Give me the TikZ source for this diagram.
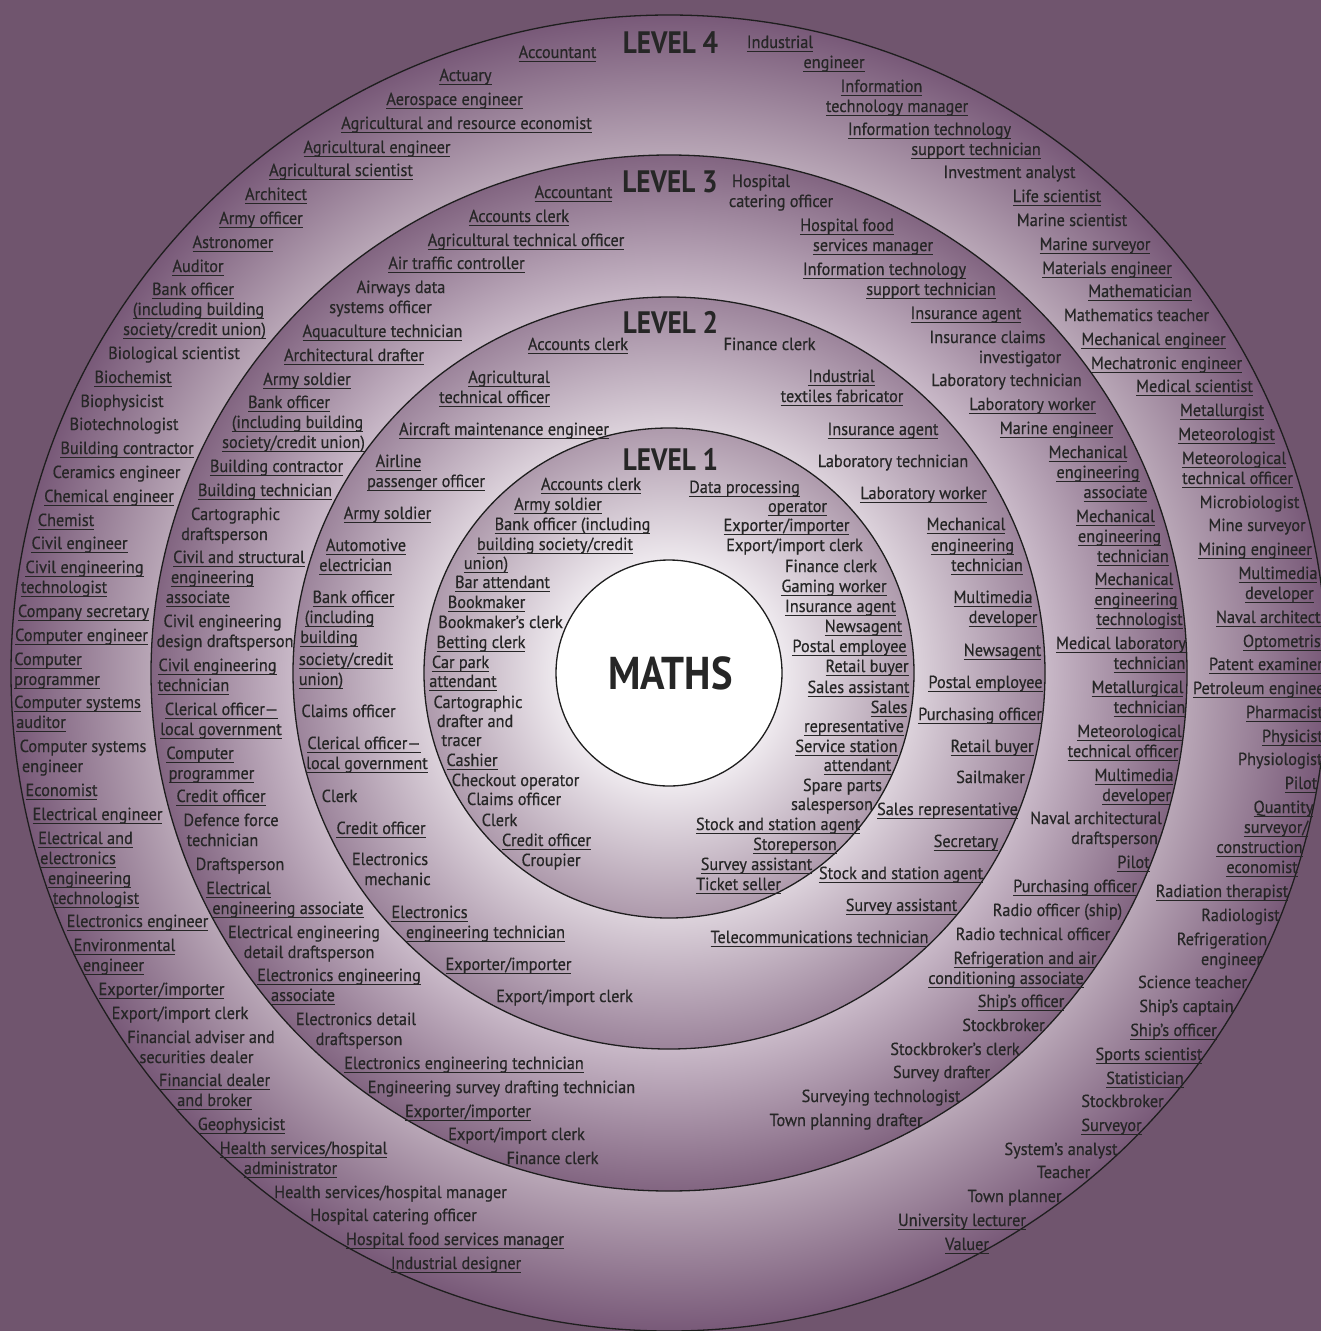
\documentclass[tikz,border=0pt]{standalone}
\usepackage{fontspec}
\setmainfont{PT Sans}[FakeStretch=0.93,FakeBold=0.5]
\newfontfamily\lvlfont{PT Sans}[FakeStretch=0.88]
\definecolor{bgc}{HTML}{70556E}
\definecolor{txtc}{HTML}{262626}
\definecolor{lnc}{HTML}{1E1E1E}
\definecolor{cFin}{HTML}{D6CBD5}
\definecolor{cFmid}{HTML}{B8A6B6}
\definecolor{cFout}{HTML}{785978}
\definecolor{cTin}{HTML}{E2D9E1}
\definecolor{cTmid}{HTML}{C8B8C7}
\definecolor{cTout}{HTML}{826581}
\definecolor{cSin}{HTML}{EEE8ED}
\definecolor{cSmid}{HTML}{DCD2DB}
\definecolor{cSout}{HTML}{9C849B}
\definecolor{cOin}{HTML}{F6F3F6}
\definecolor{cOmid}{HTML}{EEE9EE}
\definecolor{cOout}{HTML}{AE9AAC}
\pgfdeclareradialshading{shFour}{\pgfpoint{0bp}{0bp}}{color(0bp)=(cFin); color(19.7bp)=(cFmid); color(25bp)=(cFout); color(50bp)=(cFout)}
\pgfdeclareradialshading{shThree}{\pgfpoint{0bp}{0bp}}{color(0bp)=(cTin); color(18.2bp)=(cTmid); color(25bp)=(cTout); color(50bp)=(cTout)}
\pgfdeclareradialshading{shTwo}{\pgfpoint{0bp}{0bp}}{color(0bp)=(cSin); color(16.3bp)=(cSmid); color(25bp)=(cSout); color(50bp)=(cSout)}
\pgfdeclareradialshading{shOne}{\pgfpoint{0bp}{0bp}}{color(0bp)=(cOin); color(11.5bp)=(cOmid); color(25bp)=(cOout); color(50bp)=(cOout)}
\newcounter{nd}
\newcommand\Px[3]{\stepcounter{nd}\node[lbl] (n\arabic{nd}) at (#1,#2) {#3};}
\newcommand\Ux[3]{\stepcounter{nd}\node[lbl] (n\arabic{nd}) at (#1,#2) {#3};
  \draw[ulline] ([yshift=-3.4pt]n\arabic{nd}.base west) -- ([yshift=-3.4pt]n\arabic{nd}.base east);}
\newcommand\Wx[3]{\stepcounter{nd}\node[lbl,anchor=west] (n\arabic{nd}) at (#1,#2) {#3};
  \draw[ulline] ([yshift=-3.4pt]n\arabic{nd}.base west) -- ([yshift=-3.4pt]n\arabic{nd}.base east);}
\newcommand\Vx[3]{\stepcounter{nd}\node[lbl,anchor=west] (n\arabic{nd}) at (#1,#2) {#3};}
\tikzset{
  lbl/.style={inner sep=0pt, outer sep=0pt, anchor=center, text height=12pt, text depth=0pt, text=txtc, font=\fontsize{17.5}{19}\selectfont},
  ulline/.style={draw=txtc, line width=1.4pt},
  lvl/.style={inner sep=0pt, anchor=center, text=txtc, font=\lvlfont\bfseries\fontsize{31}{33}\selectfont},
  ring/.style={draw=lnc, line width=1.3pt}
}
\begin{document}
\begin{tikzpicture}[x=1pt,y=-1pt]
\useasboundingbox (0,0) rectangle (1321,1331);
\fill[bgc] (0,0) rectangle (1321,1331);
\coordinate (ctr) at (669,673);
\shade[shading=shFour] (ctr) circle[radius=658];
\draw[ring] (ctr) circle[radius=658];
\shade[shading=shThree] (ctr) circle[radius=518];
\draw[ring] (ctr) circle[radius=518];
\shade[shading=shTwo] (ctr) circle[radius=376];
\draw[ring] (ctr) circle[radius=376];
\shade[shading=shOne] (ctr) circle[radius=245];
\draw[ring] (ctr) circle[radius=245];
\node[circle, fill=white, draw=lnc, line width=1.3pt, minimum size=226pt, inner sep=0pt] (maths) at (ctr) {};
\node[inner sep=0pt, text=txtc, font=\lvlfont\bfseries\fontsize{46}{48}\selectfont] (mathslbl) at (670.5,673) {MATHS};
\node[lvl] (lv4) at (670.5,43) {LEVEL 4};
\node[lvl] (lv3) at (670,182) {LEVEL 3};
\node[lvl] (lv2) at (670.5,323) {LEVEL 2};
\node[lvl] (lv1) at (670.5,460) {LEVEL 1};
% ---------- Level 4 left
\Ux{557.5}{52}{Accountant}
\Ux{465.5}{75}{Actuary}
\Ux{454.5}{99}{Aerospace engineer}
\Ux{466.5}{123}{Agricultural and resource economist}
\Ux{377}{147}{Agricultural engineer}
\Ux{341}{170}{Agricultural scientist}
\Ux{276}{194}{Architect}
\Ux{261}{218}{Army officer}
\Ux{233}{242}{Astronomer}
\Ux{198}{266}{Auditor}
\Ux{193}{289}{Bank officer}
\Ux{198.5}{309}{(including building}
\Ux{194.5}{329}{society/credit union)}
\Px{174}{353}{Biological scientist}
\Ux{133}{377}{Biochemist}
\Px{122}{401}{Biophysicist}
\Px{124}{424}{Biotechnologist}
\Ux{127}{448}{Building contractor}
\Px{116.5}{472}{Ceramics engineer}
\Ux{109}{496}{Chemical engineer}
\Ux{66}{520}{Chemist}
\Ux{79.5}{543}{Civil engineer}
\Ux{84.5}{567}{Civil engineering}
\Ux{64}{587}{technologist}
\Ux{83.5}{611}{Company secretary}
\Ux{81.5}{635}{Computer engineer}
\Ux{48}{659}{Computer}
\Ux{57}{679}{programmer}
\Ux{77.5}{702}{Computer systems}
\Ux{41}{722}{auditor}
\Px{83}{746}{Computer systems}
\Px{52.5}{766}{engineer}
\Ux{61.5}{790}{Economist}
\Ux{97.5}{814}{Electrical engineer}
\Ux{85.5}{838}{Electrical and}
\Ux{78}{858}{electronics}
\Ux{89.5}{878}{engineering}
\Ux{96}{898}{technologist}
\Ux{137.5}{921}{Electronics engineer}
\Ux{124.5}{945}{Environmental}
\Ux{113.5}{965}{engineer}
\Ux{161.5}{989}{Exporter/importer}
\Px{180}{1013}{Export/import clerk}
\Px{201}{1037}{Financial adviser and}
\Px{196.5}{1057}{securities dealer}
\Ux{214.5}{1080}{Financial dealer}
\Ux{214.5}{1100}{and broker}
\Ux{241.5}{1124}{Geophysicist}
\Ux{303.5}{1148}{Health services/hospital}
\Ux{290.5}{1168}{administrator}
\Px{390.5}{1192}{Health services/hospital manager}
\Px{393.5}{1215}{Hospital catering officer}
\Ux{455}{1239}{Hospital food services manager}
\Ux{456}{1263}{Industrial designer}
% ---------- Level 4 right
\Ux{780}{42}{Industrial}
\Ux{834}{62}{engineer}
\Ux{881.5}{86}{Information}
\Ux{897}{106}{technology manager}
\Ux{929.5}{129}{Information technology}
\Ux{976}{149}{support technician}
\Px{1009.5}{172}{Investment analyst}
\Ux{1057}{196}{Life scientist}
\Px{1072}{220}{Marine scientist}
\Ux{1095}{244}{Marine surveyor}
\Ux{1107}{268}{Materials engineer}
\Ux{1140}{291}{Mathematician}
\Px{1136.5}{315}{Mathematics teacher}
\Ux{1153.5}{339}{Mechanical engineer}
\Ux{1166.5}{363}{Mechatronic engineer}
\Ux{1194.5}{386}{Medical scientist}
\Ux{1222}{410}{Metallurgist}
\Ux{1226.5}{434}{Meteorologist}
\Ux{1234}{458}{Meteorological}
\Ux{1237.5}{478}{technical officer}
\Px{1249.5}{502}{Microbiologist}
\Px{1257}{525}{Mine surveyor}
\Ux{1255}{549}{Mining engineer}
\Ux{1278}{573}{Multimedia}
\Wx{1245}{593}{developer}
\Wx{1216}{617}{Naval architect}
\Wx{1243}{641}{Optometrist}
\Wx{1209}{664}{Patent examiner}
\Wx{1193}{688}{Petroleum engineer}
\Wx{1246}{712}{Pharmacist}
\Wx{1262}{736}{Physicist}
\Vx{1238}{759}{Physiologist}
\Ux{1301}{783}{Pilot}
\Ux{1283.5}{807}{Quantity}
\Ux{1276}{827}{surveyor/}
\Ux{1259.5}{847}{construction}
\Ux{1262}{867}{economist}
\Ux{1222}{891}{Radiation therapist}
\Px{1240.5}{915}{Radiologist}
\Px{1222}{939}{Refrigeration}
\Px{1231.5}{959}{engineer}
\Px{1192.5}{982}{Science teacher}
\Px{1186.5}{1006}{Ship’s captain}
\Ux{1173.5}{1030}{Ship’s officer}
\Ux{1149}{1054}{Sports scientist}
\Ux{1145}{1078}{Statistician}
\Px{1122.5}{1101}{Stockbroker}
\Ux{1111.5}{1125}{Surveyor}
\Px{1061}{1149}{System’s analyst}
\Px{1063.5}{1172}{Teacher}
\Px{1014.5}{1196}{Town planner}
\Ux{962}{1220}{University lecturer}
\Ux{967}{1244}{Valuer}
% ---------- Level 3 left
\Ux{573.5}{192}{Accountant}
\Ux{519}{216}{Accounts clerk}
\Ux{526}{240}{Agricultural technical officer}
\Ux{456.5}{263}{Air traffic controller}
\Px{401}{287}{Airways data}
\Px{380.5}{307}{systems officer}
\Ux{382.5}{331}{Aquaculture technician}
\Ux{354}{355}{Architectural drafter}
\Ux{307}{379}{Army soldier}
\Ux{289}{402}{Bank officer}
\Ux{297.5}{422}{(including building}
\Ux{293.5}{442}{society/credit union)}
\Ux{276.5}{466}{Building contractor}
\Ux{265}{490}{Building technician}
\Px{235.5}{514}{Cartographic}
\Px{224.5}{534}{draftsperson}
\Ux{239}{557}{Civil and structural}
\Ux{212.5}{577}{engineering}
\Ux{198}{597}{associate}
\Px{222.5}{621}{Civil engineering}
\Px{225}{641}{design draftsperson}
\Ux{217.5}{665}{Civil engineering}
\Ux{193.5}{685}{technician}
\Ux{221.5}{709}{Clerical officer—}
\Ux{221}{729}{local government}
\Ux{200}{753}{Computer}
\Ux{211.5}{773}{programmer}
\Ux{221}{796}{Credit officer}
\Px{231}{820}{Defence force}
\Px{222.5}{840}{technician}
\Px{240}{864}{Draftsperson}
\Ux{238.5}{888}{Electrical}
\Ux{288}{908}{engineering associate}
\Px{304}{932}{Electrical engineering}
\Px{309}{952}{detail draftsperson}
\Ux{339}{975}{Electronics engineering}
\Ux{303}{995}{associate}
\Px{356}{1019}{Electronics detail}
\Px{359}{1039}{draftsperson}
\Ux{464}{1063}{Electronics engineering technician}
\Px{501.5}{1087}{Engineering survey drafting technician}
\Ux{468}{1111}{Exporter/importer}
\Px{516.5}{1134}{Export/import clerk}
\Px{552.5}{1158}{Finance clerk}
% ---------- Level 3 right
\Px{761}{181}{Hospital}
\Px{781}{201}{catering officer}
\Ux{847}{225}{Hospital food}
\Ux{873}{245}{services manager}
\Ux{884.5}{269}{Information technology}
\Ux{931}{289}{support technician}
\Ux{966}{313}{Insurance agent}
\Px{987.5}{337}{Insurance claims}
\Px{1020}{357}{investigator}
\Px{1006.5}{380}{Laboratory technician}
\Ux{1032.5}{404}{Laboratory worker}
\Ux{1056.5}{428}{Marine engineer}
\Ux{1088}{452}{Mechanical}
\Ux{1098}{472}{engineering}
\Ux{1115.5}{492}{associate}
\Ux{1115.5}{516}{Mechanical}
\Ux{1119.5}{536}{engineering}
\Ux{1133}{556}{technician}
\Ux{1134}{579}{Mechanical}
\Ux{1136}{599}{engineering}
\Ux{1139.5}{619}{technologist}
\Ux{1121}{643}{Medical laboratory}
\Ux{1149.5}{663}{technician}
\Ux{1137.5}{687}{Metallurgical}
\Ux{1149.5}{707}{technician}
\Ux{1129.5}{731}{Meteorological}
\Ux{1123}{751}{technical officer}
\Ux{1134}{775}{Multimedia}
\Ux{1136.5}{795}{developer}
\Px{1096}{818}{Naval architectural}
\Px{1114.5}{838}{draftsperson}
\Ux{1133.5}{862}{Pilot}
\Ux{1075}{886}{Purchasing officer}
\Px{1057.5}{910}{Radio officer (ship)}
\Px{1033}{934}{Radio technical officer}
\Ux{1025}{958}{Refrigeration and air}
\Ux{1006}{978}{conditioning associate}
\Ux{1021}{1001}{Ship’s officer}
\Px{1003.5}{1025}{Stockbroker}
\Px{955}{1049}{Stockbroker’s clerk}
\Px{941.5}{1072}{Survey drafter}
\Px{881}{1096}{Surveying technologist}
\Px{846}{1120}{Town planning drafter}
% ---------- Level 2 left
\Ux{578}{344}{Accounts clerk}
\Ux{509}{377}{Agricultural}
\Ux{494.5}{397}{technical officer}
\Ux{504}{429}{Aircraft maintenance engineer}
\Ux{398.5}{461}{Airline}
\Ux{426}{481}{passenger officer}
\Ux{387.5}{513}{Army soldier}
\Ux{366}{545}{Automotive}
\Ux{355.5}{565}{electrician}
\Ux{353.5}{597}{Bank officer}
\Ux{339.5}{617}{(including}
\Ux{329}{637}{building}
\Ux{346}{659}{society/credit}
\Ux{321}{679}{union)}
\Px{348.5}{711}{Claims officer}
\Ux{364}{743}{Clerical officer—}
\Ux{367}{763}{local government}
\Px{339.5}{796}{Clerk}
\Ux{381}{828}{Credit officer}
\Px{390}{859}{Electronics}
\Px{397.5}{879}{mechanic}
\Ux{429.5}{912}{Electronics}
\Ux{485.5}{932}{engineering technician}
\Ux{508.5}{964}{Exporter/importer}
\Px{564.5}{996}{Export/import clerk}
% ---------- Level 2 right
\Px{769.5}{344}{Finance clerk}
\Ux{841.5}{376}{Industrial}
\Ux{842}{396}{textiles fabricator}
\Ux{883}{429}{Insurance agent}
\Px{893}{461}{Laboratory technician}
\Ux{923.5}{493}{Laboratory worker}
\Ux{966}{524}{Mechanical}
\Ux{972.5}{545}{engineering}
\Ux{987}{565}{technician}
\Ux{993}{597}{Multimedia}
\Ux{1003}{617}{developer}
\Ux{1002.5}{650}{Newsagent}
\Ux{985.5}{682}{Postal employee}
\Ux{980}{714}{Purchasing officer}
\Ux{992}{746}{Retail buyer}
\Px{990.5}{777}{Sailmaker}
\Ux{947.5}{809}{Sales representative}
\Ux{966}{841}{Secretary}
\Ux{901}{873}{Stock and station agent}
\Ux{901.5}{905}{Survey assistant}
\Ux{819.5}{937}{Telecommunications technician}
% ---------- Level 1 left
\Ux{591}{484}{Accounts clerk}
\Ux{558}{504}{Army soldier}
\Ux{572.5}{524}{Bank officer (including}
\Ux{555}{544}{building society/credit}
\Ux{486}{563}{union)}
\Ux{502.5}{582}{Bar attendant}
\Ux{486.5}{602}{Bookmaker}
\Px{500.5}{622}{Bookmaker’s clerk}
\Ux{481}{642}{Betting clerk}
\Ux{460.5}{662}{Car park}
\Ux{463}{681}{attendant}
\Px{478}{702}{Cartographic}
\Px{475}{721}{drafter and}
\Px{461.5}{740}{tracer}
\Ux{472}{760}{Cashier}
\Px{515.5}{780}{Checkout operator}
\Px{514}{799}{Claims officer}
\Px{499.5}{820}{Clerk}
\Ux{546.5}{840}{Credit officer}
\Px{551}{860}{Croupier}
% ---------- Level 1 right
\Ux{744.5}{487}{Data processing}
\Ux{797.5}{506}{operator}
\Ux{786.5}{525}{Exporter/importer}
\Px{794.5}{545}{Export/import clerk}
\Px{831}{566}{Finance clerk}
\Ux{834}{586}{Gaming worker}
\Ux{840.5}{606}{Insurance agent}
\Ux{863.5}{626}{Newsagent}
\Ux{849.5}{646}{Postal employee}
\Ux{867}{666}{Retail buyer}
\Ux{858.5}{687}{Sales assistant}
\Ux{889}{707}{Sales}
\Ux{854}{726}{representative}
\Ux{846.5}{746}{Service station}
\Ux{857.5}{765}{attendant}
\Px{842.5}{785}{Spare parts}
\Px{832}{804}{salesperson}
\Ux{778}{824}{Stock and station agent}
\Ux{795}{844}{Storeperson}
\Ux{756.5}{864}{Survey assistant}
\Ux{738.5}{884}{Ticket seller}
\end{tikzpicture}
\end{document}
